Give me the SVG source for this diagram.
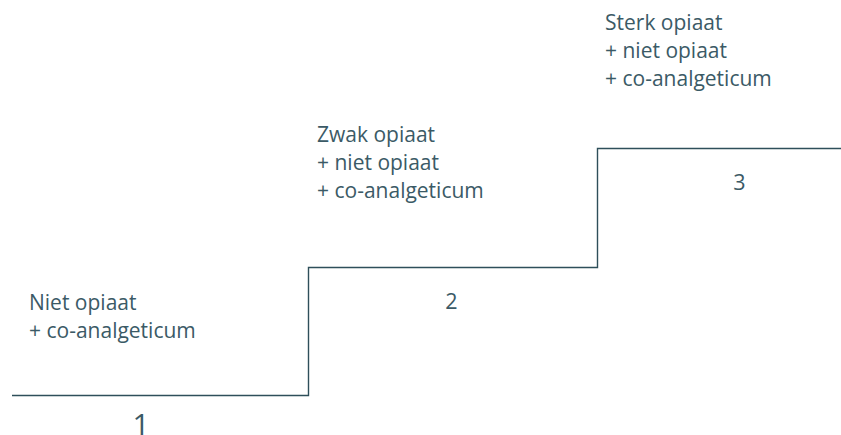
<svg xmlns="http://www.w3.org/2000/svg" width="841" height="435" viewBox="0 0 841 435">
<style>
.t{font-family:"Open Sans","Noto Sans",sans-serif;font-size:21px;fill:#3b5a66}
.n{font-family:"Open Sans","Noto Sans",sans-serif;font-size:21.5px;fill:#3b5a66;text-anchor:middle}
.big{font-size:30px}
.step{fill:none;stroke:#2e4f5a;stroke-width:1.4}
</style>
<rect width="841" height="435" fill="#ffffff"/>
<g id="connectors">
<path class="step" d="M12 395.5 H308.5 V267.5 H597.5 V148.5 H841"/>
</g>
<g id="step1">
<text class="t" x="29" y="310">Niet opiaat</text>
<text class="t" x="29" y="338">+ co-analgeticum</text>
<text class="n big" x="141" y="435">1</text>
</g>
<g id="step2">
<text class="t" x="317" y="141.5">Zwak opiaat</text>
<text class="t" x="317" y="169.5">+ niet opiaat</text>
<text class="t" x="317" y="197.5">+ co-analgeticum</text>
<text class="n" x="451.5" y="309">2</text>
</g>
<g id="step3">
<text class="t" x="605" y="30">Sterk opiaat</text>
<text class="t" x="605" y="58">+ niet opiaat</text>
<text class="t" x="605" y="86">+ co-analgeticum</text>
<text class="n" x="739.5" y="190">3</text>
</g>
</svg>
